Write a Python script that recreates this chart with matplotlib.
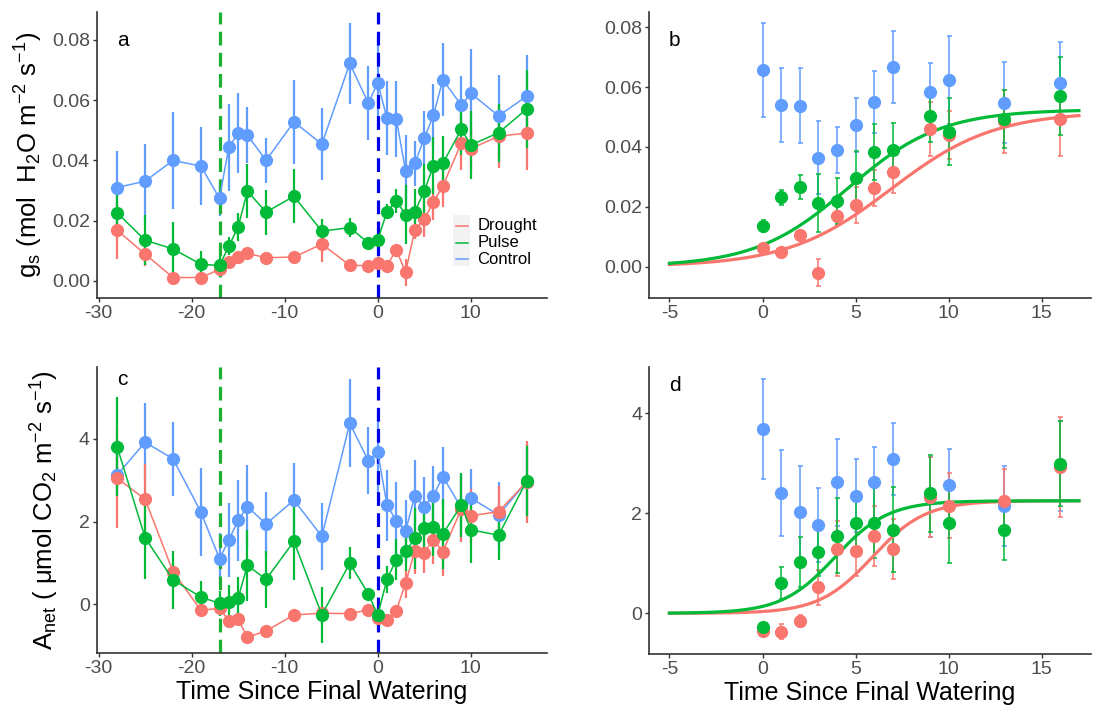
import numpy as np
import matplotlib
matplotlib.use("Agg")
import matplotlib.pyplot as plt

plt.rcParams['font.family'] = ['Liberation Sans', 'DejaVu Sans']
plt.rcParams['mathtext.default'] = 'regular'
plt.rcParams['axes.unicode_minus'] = False

# days relative to the final watering
days = [-28, -25, -22, -19, -17, -16, -15, -14, -12, -9, -6, -3, -1, 0,
        1, 2, 3, 4, 5, 6, 7, 9, 10, 13, 16]

# stomatal conductance, mean and se
gs_drought = [0.0168, 0.0089, 0.0011, 0.0011, 0.0038, 0.0063, 0.0078, 0.0091, 0.0077, 0.0079,
              0.0122, 0.0052, 0.0050, 0.0058, 0.0050, 0.0104, 0.0028, 0.0170, 0.0205, 0.0262,
              0.0315, 0.0458, 0.0439, 0.0480, 0.0491]
gs_drought_se = [0.0094, 0.004, 0.001, 0.001, 0.001, 0.001, 0.001, 0.001, 0.001, 0.001,
                 0.006, 0.001, 0.001, 0.001, 0.001, 0.001, 0.0045, 0.003, 0.006, 0.006,
                 0.007, 0.009, 0.008, 0.0105, 0.0122]
gs_pulse = [0.0226, 0.0135, 0.0106, 0.0055, 0.0051, 0.0115, 0.0179, 0.0298, 0.0228, 0.0281,
            0.0165, 0.0177, 0.0126, 0.0135, 0.0230, 0.0265, 0.0220, 0.0230, 0.0297, 0.0383,
            0.0390, 0.0504, 0.0451, 0.0492, 0.0570]
gs_pulse_se = [0.007, 0.0083, 0.009, 0.0044, 0.003, 0.003, 0.0047, 0.0089, 0.0075, 0.0089,
               0.0039, 0.0033, 0.0012, 0.002, 0.0025, 0.004, 0.0098, 0.0076, 0.009, 0.0094,
               0.0091, 0.0087, 0.0112, 0.0097, 0.013]
gs_control = [0.0310, 0.0331, 0.0400, 0.0381, 0.0274, 0.0444, 0.0490, 0.0484, 0.0400, 0.0528,
              0.0454, 0.0722, 0.0590, 0.0658, 0.0540, 0.0538, 0.0365, 0.0390, 0.0474, 0.0550,
              0.0668, 0.0583, 0.0623, 0.0548, 0.0613]
gs_control_se = [0.012, 0.0125, 0.016, 0.013, 0.006, 0.0145, 0.0133, 0.0092, 0.0076, 0.014,
                 0.0119, 0.0135, 0.0123, 0.0156, 0.0123, 0.0126, 0.012, 0.0076, 0.009, 0.0105,
                 0.0121, 0.0097, 0.0147, 0.0136, 0.0138]

# net assimilation, mean and se
an_drought = [3.05, 2.54, 0.79, -0.15, -0.10, -0.40, -0.37, -0.80, -0.65, -0.26,
              -0.22, -0.23, -0.14, -0.34, -0.38, -0.16, 0.51, 1.29, 1.25, 1.56,
              1.27, 2.31, 2.14, 2.24, 2.96]
an_drought_se = [1.2, 0.85, 0.2, 0.1, 0.1, 0.1, 0.1, 0.1, 0.15, 0.1,
                 0.1, 0.1, 0.1, 0.1, 0.15, 0.12, 0.35, 0.55, 0.5, 0.6,
                 0.6, 0.8, 0.65, 0.63, 1.0]
an_pulse = [3.81, 1.61, 0.59, 0.17, 0.02, 0.06, 0.15, 0.94, 0.60, 1.52,
            -0.26, 0.99, 0.25, -0.27, 0.60, 1.08, 1.28, 1.59, 1.84, 1.86,
            1.70, 2.40, 1.80, 1.67, 2.98]
an_pulse_se = [1.2, 1.0, 0.7, 0.4, 0.3, 0.4, 0.5, 0.86, 0.69, 0.93,
               0.68, 0.39, 0.1, 0.1, 0.32, 0.5, 0.48, 0.75, 0.6, 0.7,
               0.85, 0.77, 0.8, 0.6, 0.85]
an_control = [3.13, 3.92, 3.52, 2.23, 1.10, 1.55, 2.03, 2.36, 1.94, 2.52,
              1.64, 4.38, 3.47, 3.68, 2.40, 2.02, 1.77, 2.63, 2.36, 2.63,
              3.09, 2.33, 2.57, 2.16, 2.96]
an_control_se = [0.5, 0.96, 0.9, 1.07, 0.62, 0.9, 0.98, 1.0, 0.78, 0.9,
                 0.82, 1.07, 0.81, 1.0, 0.86, 0.93, 0.74, 0.87, 0.73, 0.71,
                 0.72, 0.8, 0.71, 0.8, 0.9]

# recovery period used for the logistic fits
fit_days = [0, 1, 2, 3, 4, 5, 6, 7, 9, 10, 13, 16]

b_drought = [0.0061, 0.0050, 0.0105, -0.0020, 0.0169, 0.0207, 0.0262, 0.0315, 0.0460, 0.0440, 0.0485, 0.0493]
b_drought_se = [0.001, 0.001, 0.001, 0.0045, 0.003, 0.006, 0.006, 0.007, 0.009, 0.008, 0.0105, 0.0122]
b_pulse = [0.0136, 0.0231, 0.0265, 0.0212, 0.0220, 0.0295, 0.0383, 0.0390, 0.0504, 0.0451, 0.0494, 0.0570]
b_pulse_se = [0.002, 0.0025, 0.004, 0.0098, 0.0076, 0.009, 0.0094, 0.0091, 0.0087, 0.0112, 0.0097, 0.013]
b_control = [0.0657, 0.0540, 0.0538, 0.0364, 0.0390, 0.0474, 0.0550, 0.0668, 0.0583, 0.0624, 0.0548, 0.0614]
b_control_se = [0.0156, 0.0123, 0.0126, 0.0122, 0.0076, 0.009, 0.0105, 0.0121, 0.0097, 0.0147, 0.0136, 0.0138]

d_drought = [-0.35, -0.37, -0.15, 0.52, 1.29, 1.25, 1.55, 1.28, 2.32, 2.15, 2.25, 2.93]
d_drought_se = [0.1, 0.15, 0.12, 0.35, 0.55, 0.5, 0.6, 0.6, 0.8, 0.65, 0.63, 1.0]
d_pulse = [-0.27, 0.60, 1.03, 1.22, 1.55, 1.81, 1.81, 1.67, 2.40, 1.80, 1.67, 2.99]
d_pulse_se = [0.05, 0.32, 0.5, 0.48, 0.75, 0.6, 0.7, 0.85, 0.77, 0.8, 0.6, 0.85]
d_control = [3.68, 2.40, 2.02, 1.76, 2.62, 2.35, 2.62, 3.08, 2.33, 2.57, 2.15, 2.95]
d_control_se = [1.0, 0.86, 0.93, 0.74, 0.87, 0.73, 0.71, 0.72, 0.8, 0.71, 0.8, 0.9]

# logistic parameters (asymptote, rate, midpoint)
gs_fit_drought = (0.0518, 0.36, 6.9)
gs_fit_pulse = (0.0525, 0.40, 4.6)
an_fit_drought = (2.25, 0.70, 5.9)
an_fit_pulse = (2.25, 0.70, 3.9)

pulse_day = -17
final_day = 0

RED = '#F8766D'
GREEN = '#00BA38'
BLUE = '#619CFF'
TICK_GREY = '#4D4D4D'


def style_axis(ax, xlim, ylim, xticks, yticks, yfmt):
    ax.set_xlim(xlim)
    ax.set_ylim(ylim)
    ax.set_xticks(xticks)
    ax.set_yticks(yticks)
    ax.set_yticklabels([yfmt.format(v) for v in yticks])
    for s in ['top', 'right']:
        ax.spines[s].set_visible(False)
    for s in ['left', 'bottom']:
        ax.spines[s].set_linewidth(1.2)
        ax.spines[s].set_color('#333333')
    ax.tick_params(direction='out', length=3, width=1, color='#333333',
                   labelsize=14, labelcolor=TICK_GREY, pad=2)


def plot_timeseries(ax, series):
    for vals, se, col in series:
        ax.errorbar(days, vals, yerr=se, color=col, lw=1.1, elinewidth=1.6,
                    marker='o', ms=9.5, mec='none', capsize=0)
    ax.axvline(pulse_day, color='#1DB033', lw=2.3, dashes=(4.3, 2.3))
    ax.axvline(final_day, color='#0000E6', lw=2.3, dashes=(4.3, 2.3))


def logistic(x, p):
    k, r, x0 = p
    return k / (1 + np.exp(-r * (x - x0)))


def plot_fits(ax, series, fits):
    for vals, se, col in series:
        ax.errorbar(fit_days, vals, yerr=se, color=col, ls='none', elinewidth=1.1,
                    marker='o', ms=9.5, mec='none', capsize=1.8, capthick=1.1)
    xs = np.linspace(-5, 17, 200)
    for p, col in fits:
        ax.plot(xs, logistic(xs, p), color=col, lw=2.3)


fig = plt.figure(figsize=(10.94, 7.07), dpi=100)
ax_a = fig.add_axes([0.0884, 0.5789, 0.4116, 0.4046])
ax_b = fig.add_axes([0.5932, 0.5789, 0.4041, 0.4046])
ax_c = fig.add_axes([0.0884, 0.0760, 0.4116, 0.4053])
ax_d = fig.add_axes([0.5932, 0.0745, 0.4041, 0.4068])

plot_timeseries(ax_a, [(gs_control, gs_control_se, BLUE),
                       (gs_drought, gs_drought_se, RED),
                       (gs_pulse, gs_pulse_se, GREEN)])
style_axis(ax_a, (-30.2, 18.2), (-0.0056, 0.0894), [-30, -20, -10, 0, 10],
           [0, 0.02, 0.04, 0.06, 0.08], '{:.2f}')
ax_a.set_ylabel('g$_s$ (mol  H$_2$O m$^{-2}$ s$^{-1}$)', fontsize=18.5, labelpad=5)

plot_timeseries(ax_c, [(an_control, an_control_se, BLUE),
                       (an_drought, an_drought_se, RED),
                       (an_pulse, an_pulse_se, GREEN)])
style_axis(ax_c, (-30.2, 18.2), (-1.19, 5.75), [-30, -20, -10, 0, 10],
           [0, 2, 4], '{:.0f}')
ax_c.set_ylabel('A$_{net}$ ( \u03bcmol CO$_2$ m$^{-2}$ s$^{-1}$)', fontsize=18.5, labelpad=13)
ax_c.set_xlabel('Time Since Final Watering', fontsize=18, labelpad=2)

plot_fits(ax_b, [(b_control, b_control_se, BLUE),
                 (b_drought, b_drought_se, RED),
                 (b_pulse, b_pulse_se, GREEN)],
          [(gs_fit_drought, RED), (gs_fit_pulse, GREEN)])
style_axis(ax_b, (-6.1, 17.65), (-0.0104, 0.0852), [-5, 0, 5, 10, 15],
           [0, 0.02, 0.04, 0.06, 0.08], '{:.2f}')

plot_fits(ax_d, [(d_control, d_control_se, BLUE),
                 (d_drought, d_drought_se, RED),
                 (d_pulse, d_pulse_se, GREEN)],
          [(an_fit_drought, RED), (an_fit_pulse, GREEN)])
style_axis(ax_d, (-6.1, 17.65), (-0.82, 4.93), [-5, 0, 5, 10, 15],
           [0, 2, 4], '{:.0f}')
ax_d.set_xlabel('Time Since Final Watering', fontsize=18, labelpad=2)

for ax, lab, ly in [(ax_a, 'a', 0.90), (ax_b, 'b', 0.90), (ax_c, 'c', 0.955), (ax_d, 'd', 0.935)]:
    ax.text(0.045, ly, lab, transform=ax.transAxes, fontsize=15, color='black',
            va='center', ha='left')

# legend drawn inside panel a
ax_a.add_patch(plt.Rectangle((0.791, 0.111), 0.038, 0.178, transform=ax_a.transAxes,
                             facecolor='#F2F2F2', edgecolor='none'))
for i, (name, col) in enumerate([('Drought', RED), ('Pulse', GREEN), ('Control', BLUE)]):
    y = 0.251 - i * 0.058
    ax_a.plot([0.797, 0.824], [y, y], transform=ax_a.transAxes, color=col, lw=1.1)
    ax_a.text(0.845, y, name, transform=ax_a.transAxes, fontsize=12, va='center')

fig.savefig('out.png', dpi=100)
